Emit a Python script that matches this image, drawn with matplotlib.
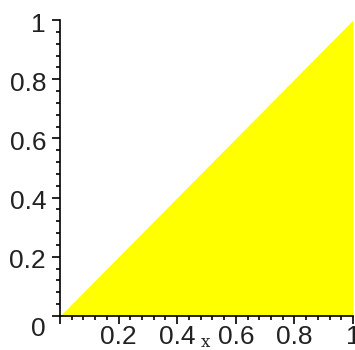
import matplotlib.pyplot as plt
import matplotlib.transforms as mtransforms
import numpy as np

# region bounded by y = x above y = 0
x_vals = np.array([0.0, 1.0])
y_upper = np.array([0.0, 1.0])
y_lower = np.array([0.0, 0.0])

tick_vals = [0, 0.2, 0.4, 0.6, 0.8, 1]
x_tick_labels = ["", "0.2", "0.4", "0.6", "0.8", "1"]
y_tick_labels = ["0", "0.2", "0.4", "0.6", "0.8", "1"]

plt.rcParams["font.family"] = ["Liberation Sans", "DejaVu Sans"]

W, H = 355, 350
fig = plt.figure(figsize=(W / 100, H / 100), dpi=100)
ax = fig.add_axes([60 / W, 34 / H, 293 / W, 296 / H])

ax.fill_between(x_vals, y_lower, y_upper, color="#ffff00", linewidth=0)

ax.set_xlim(0, 1)
ax.set_ylim(0, 1)
for s in ["top", "right"]:
    ax.spines[s].set_visible(False)
for s in ["left", "bottom"]:
    ax.spines[s].set_linewidth(1.2)
    ax.spines[s].set_zorder(5)

ax.set_xticks(tick_vals)
ax.set_xticklabels(x_tick_labels)
ax.set_yticks(tick_vals)
ax.set_yticklabels(y_tick_labels)
ax.set_xticks(np.arange(0, 1.001, 0.04), minor=True)
ax.set_yticks(np.arange(0, 1.001, 0.04), minor=True)
ax.tick_params(which="major", direction="out", length=6, width=1.2,
               labelsize=19, labelcolor="#222222")
ax.tick_params(axis="x", which="major", pad=0.5)
ax.tick_params(axis="y", which="major", pad=4)
ax.tick_params(which="minor", direction="out", length=3, width=1.2)

# Maple-style: labels sit a bit lower than their ticks, "0" at the corner
for i, lab in enumerate(ax.get_yticklabels()):
    dy = -10.5 if i == 0 else -2
    off = mtransforms.ScaledTranslation(0, dy / 100, fig.dpi_scale_trans)
    lab.set_transform(lab.get_transform() + off)

ax.text(0.497, -0.105, "x", transform=ax.transAxes, ha="center",
        va="baseline", fontsize=12, family="DejaVu Serif", color="#222222")

fig.savefig("out.png", dpi=100)
